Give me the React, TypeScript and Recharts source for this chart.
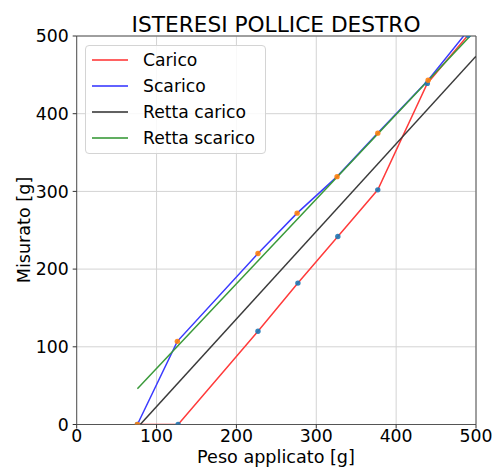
import React from 'react';
import { LineChart, Line, XAxis, YAxis, CartesianGrid, ReferenceLine, Legend } from 'recharts';

const caricoX = [76, 127, 227, 277, 327, 377, 439, 490];
const caricoY = [0, 0, 120, 182, 242, 302, 439, 501];
const scaricoX = [76, 126, 227, 276, 326, 377, 440, 490];
const scaricoY = [0, 107, 220, 272, 319, 375, 443, 507];
const rettaX = [76, 500];
const rettaCaricoY = [-4, 474];
const rettaScaricoY = [46, 508];
const ticks = [0, 100, 200, 300, 400, 500];

const zip = (xs: number[], ys: number[]) => xs.map((x, i) => ({ x, y: ys[i] }));
const carico = zip(caricoX, caricoY);
const scarico = zip(scaricoX, scaricoY);
const rettaCarico = zip(rettaX, rettaCaricoY);
const rettaScarico = zip(rettaX, rettaScaricoY);

const FONT = 'DejaVu Sans';
const C_RED = '#ff3b3b';
const C_BLUE = '#3b3bff';
const C_BLACK = '#3a3a3a';
const C_GREEN = '#3a9a3a';

const legendItems = [
  { name: 'Carico', color: C_RED },
  { name: 'Scarico', color: C_BLUE },
  { name: 'Retta carico', color: C_BLACK },
  { name: 'Retta scarico', color: C_GREEN },
];

const LegendBox = () => (
  <div
    style={{
      width: 181,
      height: 109,
      boxSizing: 'border-box',
      border: '1px solid #d4d4d4',
      borderRadius: 4,
      background: 'rgba(255,255,255,0.85)',
      paddingTop: 1,
    }}
  >
    {legendItems.map((it) => (
      <div key={it.name} style={{ display: 'flex', alignItems: 'center', height: 26, fontFamily: FONT, fontSize: 17.2, color: '#000' }}>
        <div style={{ marginLeft: 6, width: 36, height: 0, borderTop: `2px solid ${it.color}`, opacity: 0.8 }} />
        <span style={{ marginLeft: 15, whiteSpace: 'nowrap' }}>{it.name}</span>
      </div>
    ))}
  </div>
);

export default function App() {
  const tickStyle = { fontSize: 17.3, fill: '#000', fontFamily: FONT };
  return (
    <div style={{ position: 'absolute', left: 0, top: 0, width: 499, height: 468, background: '#fff' }}>
      <LineChart width={499} height={468} margin={{ top: 36, right: 23, bottom: 0, left: 0 }}>
        <CartesianGrid stroke="#d3d3d3" strokeWidth={1} />
        <XAxis
          type="number"
          dataKey="x"
          domain={[0, 500]}
          ticks={ticks}
          allowDataOverflow
          height={43.5}
          tickSize={4}
          tickMargin={1}
          tick={tickStyle}
          stroke="#555"
          axisLine={{ stroke: '#555', strokeWidth: 1 }}
          tickLine={{ stroke: '#333' }}
        />
        <YAxis
          type="number"
          dataKey="y"
          domain={[0, 500]}
          ticks={ticks}
          allowDataOverflow
          width={76.7}
          tickSize={4}
          tickMargin={4}
          tick={tickStyle}
          axisLine={{ stroke: '#555', strokeWidth: 1 }}
          tickLine={{ stroke: '#333' }}
        />
        <Line data={carico} dataKey="y" name="Carico punti" stroke="none" legendType="none" isAnimationActive={false}
          dot={{ r: 2.7, fill: '#1f77b4', stroke: 'none', fillOpacity: 0.9 }} activeDot={false} />
        <Line data={scarico} dataKey="y" name="Scarico punti" stroke="none" legendType="none" isAnimationActive={false}
          dot={{ r: 2.7, fill: '#ff7f0e', stroke: 'none', fillOpacity: 0.9 }} activeDot={false} />
        <Line data={carico} dataKey="y" name="Carico" stroke={C_RED} strokeWidth={1.5} isAnimationActive={false} dot={false} activeDot={false} />
        <Line data={scarico} dataKey="y" name="Scarico" stroke={C_BLUE} strokeWidth={1.5} isAnimationActive={false} dot={false} activeDot={false} />
        <Line data={rettaCarico} dataKey="y" name="Retta carico" stroke={C_BLACK} strokeWidth={1.5} isAnimationActive={false} dot={false} activeDot={false} />
        <Line data={rettaScarico} dataKey="y" name="Retta scarico" stroke={C_GREEN} strokeWidth={1.5} isAnimationActive={false} dot={false} activeDot={false} />
        <ReferenceLine y={500} stroke="#555" strokeWidth={1} ifOverflow="visible" />
        <ReferenceLine x={500} stroke="#555" strokeWidth={1} ifOverflow="visible" />
        <Legend
          layout="vertical"
          align="center"
          verticalAlign="middle"
          wrapperStyle={{ left: 85, top: 45, width: 181, height: 109 }}
          content={() => <LegendBox />}
        />
        <text x={276} y={31.5} textAnchor="middle" fontFamily={FONT} fontSize={21.7} fill="#000">ISTERESI POLLICE DESTRO</text>
        <text x={276} y={462.5} textAnchor="middle" fontFamily={FONT} fontSize={17.6} fill="#000">Peso applicato [g]</text>
        <text x={29.5} y={230} textAnchor="middle" fontFamily={FONT} fontSize={17.6} fill="#000" transform="rotate(-90 29.5 230)">Misurato [g]</text>
      </LineChart>
    </div>
  );
}
